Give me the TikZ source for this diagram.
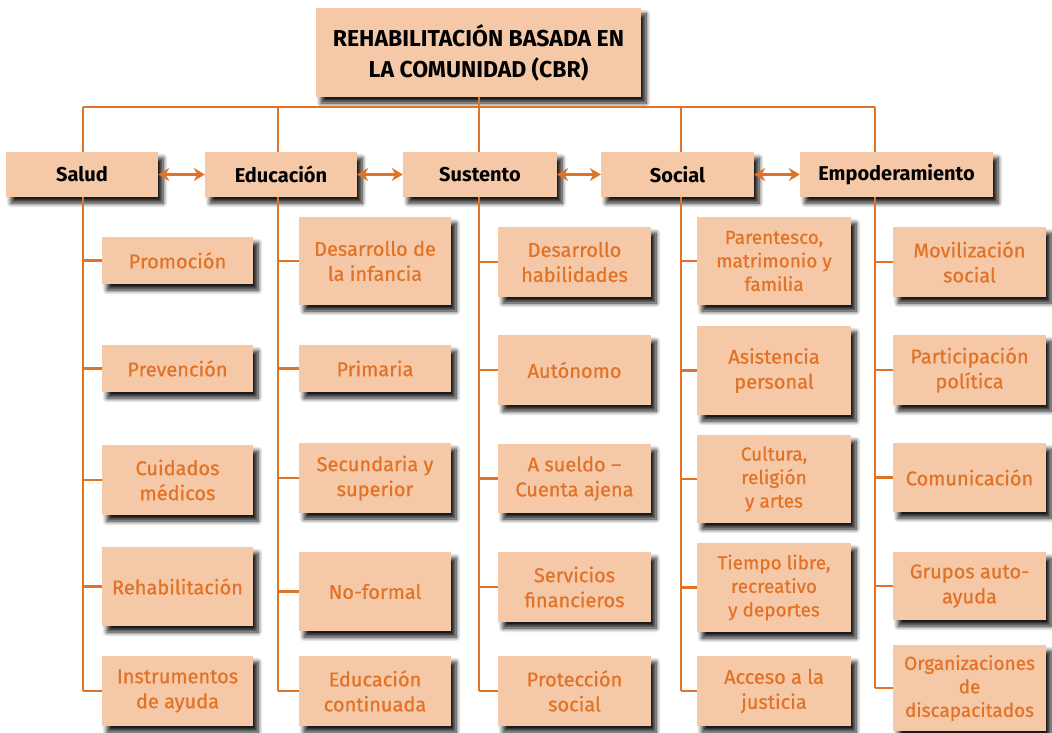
\documentclass[tikz,border=0pt]{standalone}
\usepackage{fontspec}
\setmainfont{Fira Sans}
\newfontfamily\medfont[FakeBold=0.7]{Fira Sans}
\usepackage{tikz}
\usetikzlibrary{arrows.meta,shadows.blur}
\definecolor{peach}{RGB}{245,201,168}
\definecolor{rust}{RGB}{226,114,38}

\begin{document}
\begin{tikzpicture}[x=1pt,y=-1pt,
    box/.style={fill=peach, inner sep=0pt, align=center,
      blur shadow={shadow xshift=5pt, shadow yshift=-6pt, shadow blur radius=4.5pt,
        shadow blur steps=8, shadow opacity=90}},
    head/.style={box, font=\bfseries\fontsize{20}{24}\selectfont, minimum height=45pt},
    item/.style={box, text=rust, font=\medfont\fontsize{20}{25}\selectfont},
    link/.style={draw=rust, line width=2.8pt},
    both/.style={link, {Stealth[length=11pt,width=13pt]}-{Stealth[length=11pt,width=13pt]}}]
  \useasboundingbox (0,0) rectangle (1052,733);

  \node[box, font=\bfseries\fontsize{23}{31}\selectfont, minimum width=325pt, minimum height=89pt]
    (cbr) at (478.5,52.5) {REHABILITACIÓN BASADA EN\\LA COMUNIDAD (CBR)};

  \node[head, minimum width=152pt] (sal) at (82,174.5) {Salud};
  \node[head, minimum width=152pt] (edu) at (281,174.5) {Educación};
  \node[head, minimum width=154pt] (sus) at (480,174.5) {Sustento};
  \node[head, minimum width=153pt] (soc) at (677.5,174.5) {Social};
  \node[head, minimum width=193pt] (emp) at (896.5,174.5) {Empoderamiento};

  % salud
  \node[item, minimum width=151pt, minimum height=47pt] (promo) at (177.5,260.5) {Promoción};
  \node[item, minimum width=151pt, minimum height=47pt] (prev)  at (177.5,368.5) {Prevención};
  \node[item, minimum width=151pt, minimum height=70pt] (cuid)  at (177.5,480) {Cuidados\\médicos};
  \node[item, minimum width=151pt, minimum height=79pt] (rehab) at (177.5,586.5) {Rehabilitación};
  \node[item, minimum width=151pt, minimum height=70pt] (instr) at (177.5,691) {Instrumentos\\de ayuda};

  % educacion
  \node[item, minimum width=152pt, minimum height=88pt] (infa) at (375,261) {Desarrollo de\\la infancia};
  \node[item, minimum width=152pt, minimum height=47pt] (prim) at (375,368.5) {Primaria};
  \node[item, minimum width=152pt, minimum height=70pt] (secu) at (375,478) {Secundaria y\\superior};
  \node[item, minimum width=152pt, minimum height=79pt] (nofo) at (375,591.5) {No-formal};
  \node[item, minimum width=152pt, minimum height=70pt] (cont) at (375,691) {Educación\\continuada};

  % sustento
  \node[item, minimum width=153pt, minimum height=70pt] (habi) at (574.5,262) {Desarrollo\\habilidades};
  \node[item, minimum width=153pt, minimum height=70pt] (auto) at (574.5,370) {Autónomo};
  \node[item, minimum width=153pt, minimum height=69pt] (suel) at (574.5,478.5) {A sueldo –\\Cuenta ajena};
  \node[item, minimum width=153pt, minimum height=70pt] (fina) at (574.5,587) {Servicios\\financieros};
  \node[item, minimum width=153pt, minimum height=70pt] (prot) at (574.5,691) {Protección\\social};

  % social
  \node[item, minimum width=154pt, minimum height=88pt, font=\medfont\fontsize{19}{23.5}\selectfont]
    (pare) at (774,261) {Parentesco,\\matrimonio y\\familia};
  \node[item, minimum width=154pt, minimum height=89pt] (asis) at (774,370.5) {Asistencia\\personal};
  \node[item, minimum width=154pt, minimum height=88pt, font=\medfont\fontsize{19}{23.5}\selectfont]
    (cult) at (774,479) {Cultura,\\religión\\y artes};
  \node[item, minimum width=154pt, minimum height=89pt, font=\medfont\fontsize{19}{23.5}\selectfont]
    (tiem) at (774,587.5) {Tiempo libre,\\recreativo\\y deportes};
  \node[item, minimum width=154pt, minimum height=70pt] (just) at (774,691) {Acceso a la\\justicia};

  % empoderamiento
  \node[item, minimum width=153pt, minimum height=70pt] (movi) at (969.5,262) {Movilización\\social};
  \node[item, minimum width=153pt, minimum height=70pt] (poli) at (969.5,370) {Participación\\política};
  \node[item, minimum width=153pt, minimum height=69pt] (comu) at (969.5,477.5) {Comunicación};
  \node[item, minimum width=153pt, minimum height=68pt] (grup) at (969.5,586) {Grupos auto-\\ayuda};
  \node[item, minimum width=153pt, minimum height=86pt, font=\medfont\fontsize{19}{23.5}\selectfont]
    (orga) at (969.5,688) {Organizaciones\\de\\discapacitados};

  \coordinate (ln-sal) at (83,107);
  \coordinate (ln-edu) at (278,107);
  \coordinate (ln-sus) at (479,107);
  \coordinate (ln-soc) at (681,107);
  \coordinate (ln-emp) at (875,107);

  \draw[link] (cbr.south -| ln-sus) -- (ln-sus);
  \draw[link] (ln-sal) -- (ln-emp);

  \foreach \h/\last/\items in {sal/instr/{promo,prev,cuid,rehab,instr},
      edu/cont/{infa,prim,secu,nofo,cont}, sus/prot/{habi,auto,suel,fina,prot},
      soc/just/{pare,asis,cult,tiem,just}, emp/orga/{movi,poli,comu,grup,orga}} {
    \draw[link] (ln-\h) -- (ln-\h |- \h.north);
    \draw[link] (ln-\h |- \h.south) -- (ln-\h |- \last.west);
    \foreach \b in \items
      \draw[link] (ln-\h |- \b.west) -- (\b.west);
  }

  \draw[both] (sal) -- (edu);
  \draw[both] (edu) -- (sus);
  \draw[both] (sus) -- (soc);
  \draw[both] (soc) -- (emp);
\end{tikzpicture}
\end{document}
